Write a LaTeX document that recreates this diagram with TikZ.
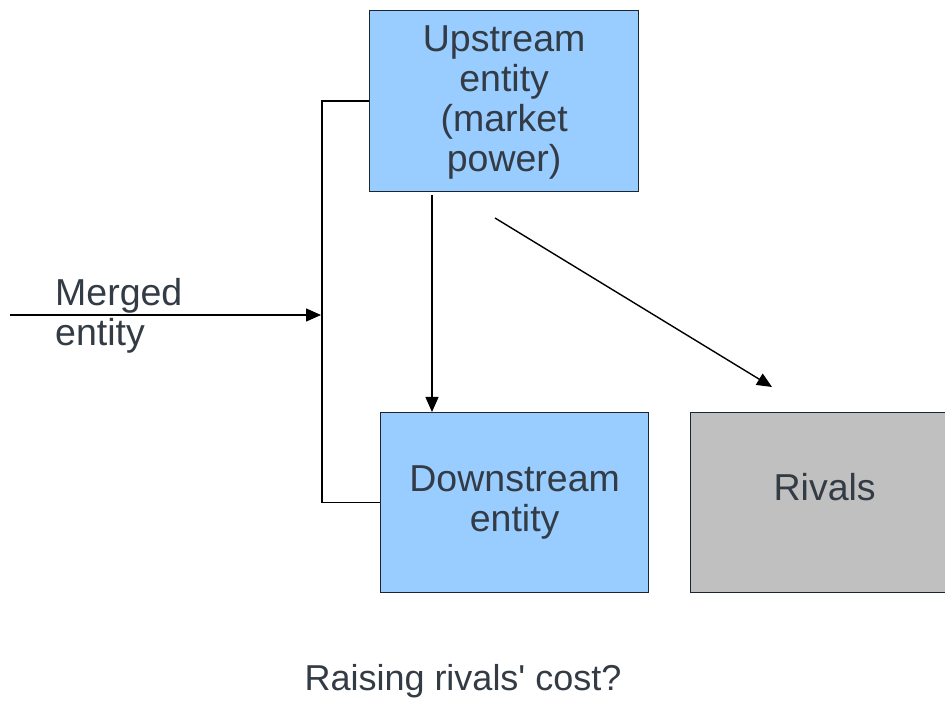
\documentclass[tikz,border=0pt]{standalone}
\usepackage{fontspec}
\setmainfont{Liberation Sans}
\usetikzlibrary{arrows.meta,calc}
\definecolor{boxblue}{HTML}{99CCFF}
\definecolor{boxgray}{HTML}{C0C0C0}
\definecolor{txt}{HTML}{333B45}
\definecolor{edge}{HTML}{1C2633}
\begin{document}
\begin{tikzpicture}[x=1pt,y=1pt,
  entbox/.style={draw=edge,line width=1.3pt,minimum width=269pt,minimum height=181pt,
    inner sep=0pt,align=center,text=txt,font=\fontsize{37.5}{40}\selectfont},
  conn/.style={line width=1.4pt,black},
  tip/.style={-{Triangle[length=15pt,width=13pt]}},
  lbl/.style={text=txt,font=\fontsize{37.5}{40}\selectfont,inner sep=0pt}]
\useasboundingbox[fill=white] (0,0) rectangle (945,702);
\node[entbox,fill=boxblue,anchor=north west] (up) at (369,692)
  {\strut Upstream\\entity\\(market\\power)\vphantom{p}};
\node[entbox,fill=boxblue,minimum width=268pt,minimum height=180pt,anchor=north west] (down) at (380,290)
  {Downstream\\entity};
\node[entbox,fill=boxgray,minimum width=268pt,minimum height=180pt,anchor=north west] (riv) at (690,290) {};
\node[lbl] (rivtxt) at ([yshift=16pt]riv.center) {Rivals};
% bracket
\draw[conn] (up.west) -- ++(-47,0) coordinate (bt) |- (down.west);
% merged entity arrow
\coordinate (mstart) at (10,387);
\coordinate (mend) at (321,387);
\draw[conn,tip] (mstart) -- (mend);
\node[lbl,anchor=base west] (m1) at (55,396) {Merged};
\node[lbl,anchor=base west] (m2) at (55,356) {entity};
% vertical arrow
\coordinate (vs) at (432,507);
\draw[conn,tip] (vs) -- (vs |- down.north);
% diagonal arrow
\coordinate (ds) at (495,484);
\coordinate (de) at (772,315);
\draw[conn,tip] (ds) -- (de);
% caption
\node[lbl,anchor=base,font=\fontsize{36}{40}\selectfont] (cap) at (463,12) {Raising rivals\textquotesingle{} cost?};
\end{tikzpicture}
\end{document}
